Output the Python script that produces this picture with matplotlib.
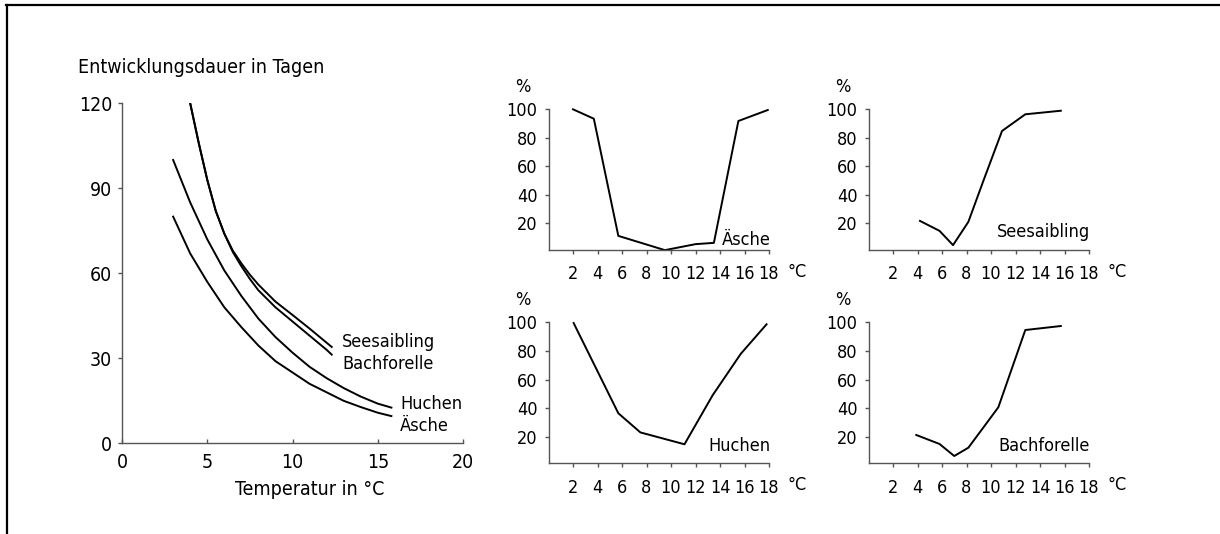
import matplotlib.pyplot as plt
from matplotlib.lines import Line2D

plt.rcParams['font.family'] = ['DejaVu Sans']
plt.rcParams['font.stretch'] = 'condensed'
plt.rcParams['font.size'] = 13

W, H = 1220, 534

# Entwicklungsdauer in Tagen (linkes Diagramm)
temp_salmo = [4.0, 4.5, 5.0, 5.5, 6.0, 6.5, 7.0, 7.5, 8.0, 9.0, 10.0, 11.0, 12.0, 12.3]
days_seesaibling = [120, 106, 93, 82, 74, 68, 63.5, 59.5, 56, 50, 45.3, 40.5, 35.5, 34]
days_bachforelle = [120, 106, 93, 82, 74, 67.5, 62.5, 58, 54, 48, 43, 38, 33, 31.3]

temp_thym = [3.0, 4.0, 5.0, 6.0, 7.0, 8.0, 9.0, 10.0, 11.0, 12.0, 13.0, 14.0, 15.0, 15.8]
days_huchen = [100, 85, 72, 61, 52, 44, 37.5, 32, 27, 23, 19.5, 16.5, 14, 12.6]
days_aesche = [80, 67, 57, 48, 41, 34.5, 29, 25, 21, 18, 15, 12.8, 10.8, 9.6]

# Prozent (kleine Diagramme)
x_aesche = [2.0, 3.7, 5.7, 9.5, 12.0, 13.5, 15.5, 17.9]
p_aesche = [100, 93.4, 11.3, 1.3, 5.5, 6.4, 91.8, 99.5]
x_seesaibling = [4.2, 5.8, 6.9, 8.15, 9.4, 10.9, 12.8, 15.7]
p_seesaibling = [21.8, 14.8, 4.8, 21.1, 50.4, 84.8, 96.5, 99.0]
x_huchen = [2.05, 5.7, 7.5, 11.1, 13.4, 15.7, 17.8]
p_huchen = [99.5, 36.4, 23, 14.7, 49, 78, 98.6]
x_bachforelle = [3.9, 5.8, 7.0, 8.15, 9.4, 10.6, 12.8, 15.7]
p_bachforelle = [21.2, 14.9, 6.5, 12.3, 26.7, 40.6, 94.6, 97.4]

small_xticks = [2, 4, 6, 8, 10, 12, 14, 16, 18]
small_yticks = [20, 40, 60, 80, 100]


def px(x, y):
    return x / W, 1 - y / H


def rect(x0, y_top, x1, y_bot):
    return [x0 / W, 1 - y_bot / H, (x1 - x0) / W, (y_bot - y_top) / H]


fig = plt.figure(figsize=(W / 100, H / 100), dpi=100)

# border (only top and left visible)
fig.add_artist(Line2D([6 / W, 1], [1 - 5 / H, 1 - 5 / H], color='black', lw=1.6))
fig.add_artist(Line2D([7 / W, 7 / W], [0, 1 - 5 / H], color='black', lw=1.6))

axis_col = '#555555'

# left chart
ax = fig.add_axes(rect(122, 103.3, 463, 443.3))
ax.plot(temp_salmo, days_seesaibling, color='black', lw=1.4)
ax.plot(temp_salmo, days_bachforelle, color='black', lw=1.4)
ax.plot(temp_thym, days_huchen, color='black', lw=1.4)
ax.plot(temp_thym, days_aesche, color='black', lw=1.4)
ax.set_xlim(0, 20)
ax.set_ylim(0, 120)
ax.set_xticks([0, 5, 10, 15, 20])
ax.set_yticks([0, 30, 60, 90, 120])
for s in ['top', 'right']:
    ax.spines[s].set_visible(False)
for s in ['left', 'bottom']:
    ax.spines[s].set_color(axis_col)
    ax.spines[s].set_linewidth(1.0)
ax.tick_params(axis='x', direction='in', length=3, width=1, color=axis_col, pad=7, labelsize=14)
ax.tick_params(axis='y', direction='out', length=3, width=1, color=axis_col, pad=4, labelsize=14)
ax.text(12.9, 33.9, 'Seesaibling', va='baseline')
ax.text(12.9, 26.3, 'Bachforelle', va='baseline')
ax.text(16.3, 12.2, 'Huchen', va='baseline')
ax.text(16.3, 4.4, 'Äsche', va='baseline')

fig.text(*px(78, 73.4), 'Entwicklungsdauer in Tagen', fontsize=14, va='baseline')
fig.text(*px(235, 495), 'Temperatur in °C', fontsize=14, va='baseline')

# small charts
panels = [
    (548.5, 109.3, 250.0, x_aesche, p_aesche, 'Äsche', 4.8),
    (868.5, 109.3, 250.0, x_seesaibling, p_seesaibling, 'Seesaibling', 10.6),
    (548.5, 322.3, 463.3, x_huchen, p_huchen, 'Huchen', 10.3),
    (868.5, 322.3, 463.3, x_bachforelle, p_bachforelle, 'Bachforelle', 9.9),
]
for left, top, bottom, xs, ps, name, name_y in panels:
    a = fig.add_axes(rect(left, top, left + 220.5, bottom))
    a.plot(xs, ps, color='black', lw=1.4, clip_on=False)
    a.set_xlim(0, 18)
    a.set_ylim(1.4, 100)
    a.set_xticks(small_xticks)
    a.set_yticks(small_yticks)
    for s in ['top', 'right']:
        a.spines[s].set_visible(False)
    for s in ['left', 'bottom']:
        a.spines[s].set_color(axis_col)
        a.spines[s].set_linewidth(1.0)
    a.tick_params(axis='both', direction='out', length=3, width=1, color=axis_col,
                  labelsize=13)
    a.tick_params(axis='x', pad=8)
    a.tick_params(axis='y', pad=5)
    a.text(18.1, name_y, name, ha='right', va='baseline')
    a.annotate('°C', xy=(20.3, 0), xycoords=('data', 'axes fraction'),
               xytext=(0, -15.6), textcoords='offset points',
               ha='center', va='center', annotation_clip=False)
    fig.text(*px(left - 25.5, top - 22), '%', ha='center', va='center')

fig.savefig('out.png', dpi=100)
